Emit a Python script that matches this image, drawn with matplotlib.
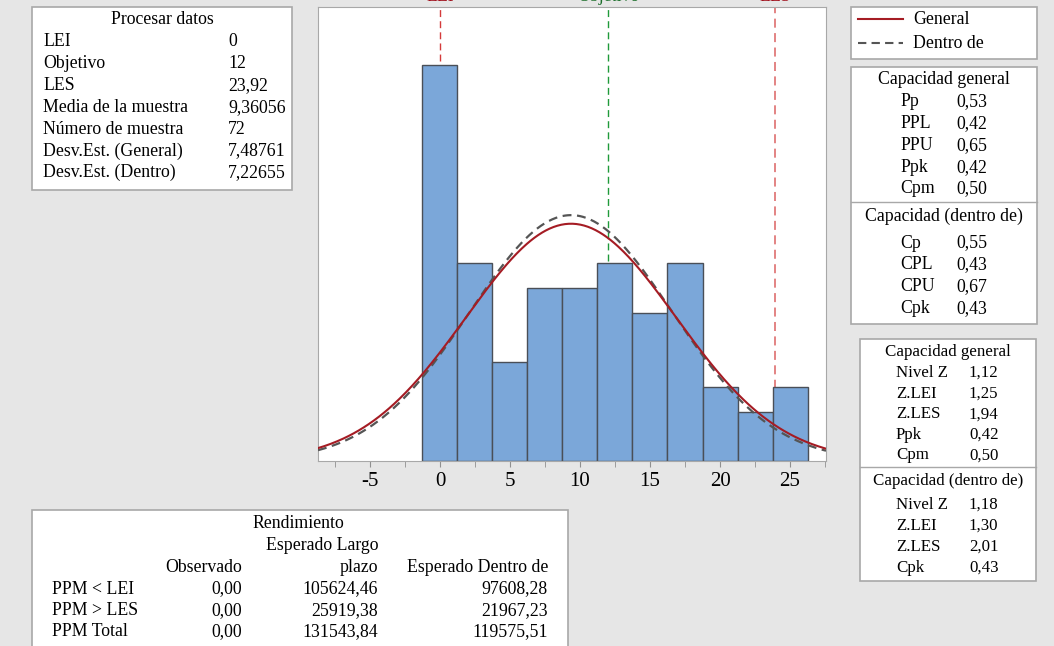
import numpy as np
import matplotlib
matplotlib.use("Agg")
import matplotlib.pyplot as plt
from matplotlib.patches import Rectangle
from matplotlib.lines import Line2D

plt.rcParams["axes.unicode_minus"] = False

# data
bin_centers = [0, 2.5, 5, 7.5, 10, 12.5, 15, 17.5, 20, 22.5, 25]
counts = [16, 8, 4, 7, 7, 8, 6, 8, 3, 2, 3]
bin_width = 2.5
lei, objetivo, les = 0, 12, 23.92
media = 9.36056
n_muestra = 72
sd_general = 7.48761
sd_dentro = 7.22655

proc_labels = ["LEI", "Objetivo", "LES", "Media de la muestra", "Número de muestra",
               "Desv.Est. (General)", "Desv.Est. (Dentro)"]
proc_values = ["0", "12", "23,92", "9,36056", "72", "7,48761", "7,22655"]

cap_gen_labels = ["Pp", "PPL", "PPU", "Ppk", "Cpm"]
cap_gen_values = ["0,53", "0,42", "0,65", "0,42", "0,50"]
cap_den_labels = ["Cp", "CPL", "CPU", "Cpk"]
cap_den_values = ["0,55", "0,43", "0,67", "0,43"]

z_gen_labels = ["Nivel Z", "Z.LEI", "Z.LES", "Ppk", "Cpm"]
z_gen_values = ["1,12", "1,25", "1,94", "0,42", "0,50"]
z_den_labels = ["Nivel Z", "Z.LEI", "Z.LES", "Cpk"]
z_den_values = ["1,18", "1,30", "2,01", "0,43"]

rend_rows = ["PPM < LEI", "PPM > LES", "PPM Total"]
rend_obs = ["0,00", "0,00", "0,00"]
rend_largo = ["105624,46", "25919,38", "131543,84"]
rend_dentro = ["97608,28", "21967,23", "119575,51"]

W, H = 1054, 646
FONT = "Liberation Serif"
FS = 12.8
BG = "#e6e6e6"
EDGE = "#a8a8a8"

fig = plt.figure(figsize=(W / 100, H / 100), dpi=100, facecolor=BG)


def fx(px):
    return px / W


def fy(py):
    return 1 - py / H


def box(x0, y0, x1, y1):
    fig.patches.append(Rectangle((fx(x0), fy(y1)), fx(x1 - x0), (y1 - y0) / H,
                                 transform=fig.transFigure, facecolor="white",
                                 edgecolor=EDGE, lw=1.2, zorder=0))


def txt(x, y, s, ha="left", size=FS, color="black"):
    fig.text(fx(x), fy(y), s, ha=ha, va="center", fontsize=size,
             family=FONT, color=color)


# main histogram
ax = fig.add_axes([fx(318), fy(461), fx(826 - 318), (461 - 7) / H])
ax.set_facecolor("white")
x_lo, x_hi = -8.71, 27.57
ax.set_xlim(x_lo, x_hi)
ax.set_ylim(0, 18.35)

ax.axvline(lei, color="#d43a3a", ls=(0, (5, 3)), lw=1, zorder=1)
ax.axvline(les, color="#e07a7a", ls=(0, (5, 3)), lw=1.3, zorder=1)
ax.axvline(objetivo, color="#1f9a3a", ls=(0, (5, 3)), lw=1, zorder=1)

ax.bar(bin_centers, counts, width=bin_width, color="#7ba7d9",
       edgecolor="#4a4f57", lw=1, zorder=2)

xs = np.linspace(x_lo, x_hi, 400)
scale = n_muestra * bin_width
pdf_gen = scale * np.exp(-0.5 * ((xs - media) / sd_general) ** 2) / (sd_general * np.sqrt(2 * np.pi))
pdf_den = scale * np.exp(-0.5 * ((xs - media) / sd_dentro) ** 2) / (sd_dentro * np.sqrt(2 * np.pi))
ax.plot(xs, pdf_den, color="#555555", ls=(0, (4, 2.5)), lw=1.6, zorder=3)
ax.plot(xs, pdf_gen, color="#a51c24", lw=1.5, zorder=4)

ax.set_yticks([])
ax.set_xticks([-5, 0, 5, 10, 15, 20, 25])
ax.set_xticks(np.arange(-7.5, 27.6, 2.5), minor=True)
ax.tick_params(axis="x", which="both", direction="out", length=4, color="#909090", pad=4)
ax.tick_params(axis="x", which="major", labelsize=15)
for lab in ax.get_xticklabels():
    lab.set_family(FONT)
for sp in ax.spines.values():
    sp.set_color(EDGE)

# reference labels, cut off by the top edge as in the original
for val, name, col in [(lei, "LEI", "#a0101c"), (objetivo, "Objetivo", "#1b6e2a"), (les, "LES", "#a0101c")]:
    px = 318 + (val - x_lo) / (x_hi - x_lo) * (826 - 318)
    fig.text(fx(px), fy(0.8), name, ha="center", va="baseline", fontsize=FS,
             family=FONT, color=col)

# Procesar datos
box(32, 7, 292, 190)
txt(162, 19, "Procesar datos", ha="center")
for i, (lab, val) in enumerate(zip(proc_labels, proc_values)):
    y = 42 + i * 21.8
    txt(43, y, lab)
    txt(228, y, val)

# legend box
box(851, 7, 1037, 59)
fig.lines.append(Line2D([fx(858), fx(903)], [fy(19), fy(19)], transform=fig.transFigure,
                        color="#a51c24", lw=1.5))
fig.lines.append(Line2D([fx(858), fx(903)], [fy(43), fy(43)], transform=fig.transFigure,
                        color="#555555", ls=(0, (4, 2.5)), lw=1.5))
txt(913, 19, "General")
txt(913, 43, "Dentro de")

# capacidad box
box(851, 67, 1037, 324)
fig.lines.append(Line2D([fx(851), fx(1037)], [fy(202), fy(202)], transform=fig.transFigure,
                        color=EDGE, lw=1))
txt(944, 80, "Capacidad general", ha="center")
for i, (lab, val) in enumerate(zip(cap_gen_labels, cap_gen_values)):
    y = 102 + i * 21.7
    txt(900, y, lab)
    txt(956, y, val)
txt(944, 216, "Capacidad (dentro de)", ha="center")
for i, (lab, val) in enumerate(zip(cap_den_labels, cap_den_values)):
    y = 243 + i * 21.8
    txt(900, y, lab)
    txt(956, y, val)

# Z box
box(860, 339, 1036, 581)
fig.lines.append(Line2D([fx(860), fx(1036)], [fy(467), fy(467)], transform=fig.transFigure,
                        color=EDGE, lw=1))
ZS = 12.2
txt(948, 352, "Capacidad general", ha="center", size=ZS)
for i, (lab, val) in enumerate(zip(z_gen_labels, z_gen_values)):
    y = 373 + i * 20.6
    txt(896, y, lab, size=ZS)
    txt(969, y, val, size=ZS)
txt(948, 481, "Capacidad (dentro de)", ha="center", size=ZS)
for i, (lab, val) in enumerate(zip(z_den_labels, z_den_values)):
    y = 505 + i * 21
    txt(896, y, lab, size=ZS)
    txt(969, y, val, size=ZS)

# Rendimiento box (runs off the bottom edge)
box(32, 510, 568, 660)
txt(298, 523, "Rendimiento", ha="center")
txt(378, 546, "Esperado Largo", ha="right")
txt(242, 568, "Observado", ha="right")
txt(378, 568, "plazo", ha="right")
txt(548, 568, "Esperado Dentro de", ha="right")
for i, lab in enumerate(rend_rows):
    y = 589 + i * 21.5
    txt(52, y, lab)
    txt(242, y, rend_obs[i], ha="right")
    txt(378, y, rend_largo[i], ha="right")
    txt(548, y, rend_dentro[i], ha="right")

fig.savefig("out.png", dpi=100, facecolor=BG)
